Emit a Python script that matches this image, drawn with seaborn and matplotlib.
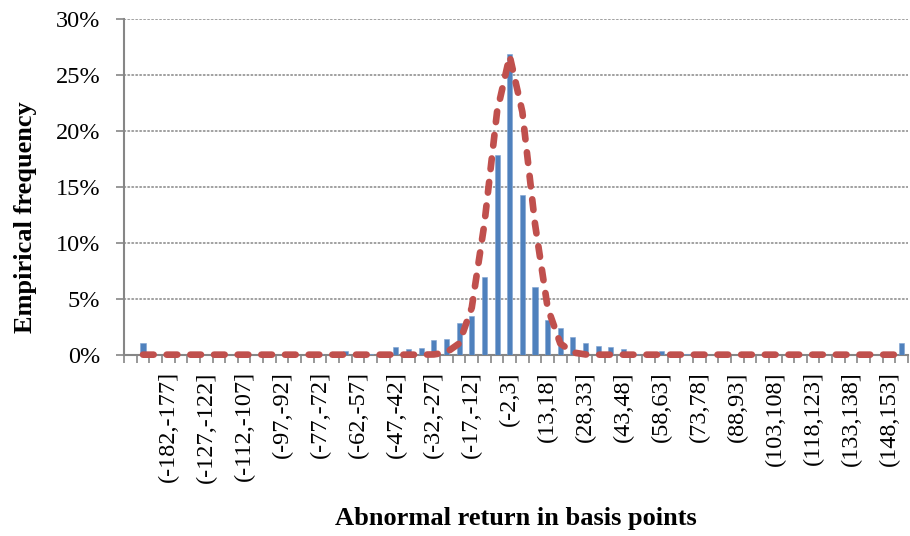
import numpy as np
import pandas as pd
import seaborn as sns
import matplotlib
matplotlib.use("Agg")
import matplotlib.pyplot as plt
from matplotlib.ticker import FuncFormatter, FixedLocator

# ---- data ----
# lower bounds of each 5 bp bucket (index 0 is an unlabeled empty slot)
lower_bounds = [None, -192, -187, -182, -177, -132, -127, -122, -117, -112, -107, -102,
                -97, -92, -82, -77, -72, -67, -62, -57, -52, -47, -42, -37, -32, -27,
                -22, -17, -12, -7, -2, 3, 8, 13, 18, 23, 28, 33, 38, 43, 48, 53,
                58, 63, 68, 73, 78, 83, 88, 93, 98, 103, 108, 113, 118, 123, 128,
                133, 138, 143, 148, 153]
categories = ["" if lo is None else f"({lo},{lo + 5}]" for lo in lower_bounds]

# empirical frequency (%)
empirical = [0.0, 1.02, 0.0, 0.0, 0.0, 0.0, 0.0, 0.0, 0.0, 0.05, 0.0, 0.0,
             0.0, 0.0, 0.0, 0.05, 0.0, 0.36, 0.24, 0.05, 0.18, 0.69, 0.51, 0.64,
             1.30, 1.36, 2.80, 3.48, 6.90, 17.80, 26.85, 14.25, 6.07, 3.10, 2.40, 1.62,
             1.05, 0.74, 0.67, 0.51, 0.05, 0.0, 0.30, 0.05, 0.05, 0.18, 0.0, 0.0,
             0.0, 0.0, 0.0, 0.12, 0.0, 0.0, 0.0, 0.0, 0.0, 0.0, 0.0, 0.0, 0.0, 1.03]

# fitted normal density (%), dashed red line
normal_fit = [np.nan, 0.0, 0.0, 0.0, 0.0, 0.0, 0.0, 0.0, 0.0, 0.0, 0.0, 0.0,
              0.0, 0.0, 0.0, 0.0, 0.0, 0.0, 0.0, 0.0, 0.0, 0.0, 0.0, 0.0,
              0.02, 0.20, 1.00, 4.20, 11.70, 21.70, 26.70, 21.70, 11.70, 4.20, 1.00, 0.20,
              0.02, 0.0, 0.0, 0.0, 0.0, 0.0, 0.0, 0.0, 0.0, 0.0, 0.0, 0.0,
              0.0, 0.0, 0.0, 0.0, 0.0, 0.0, 0.0, 0.0, 0.0, 0.0, 0.0, 0.0, 0.0, 0.0]

y_ticks = [0, 5, 10, 15, 20, 25, 30]

df = pd.DataFrame({"category": categories,
                   "pos": np.arange(len(categories)),
                   "empirical": np.array(empirical) / 100.0,
                   "normal": np.array(normal_fit) / 100.0})

# ---- style ----
sns.set_theme(style="white")
plt.rcParams["font.family"] = ["Liberation Serif", "DejaVu Serif"]
plt.rcParams["text.color"] = "black"
plt.rcParams["xtick.color"] = "black"
plt.rcParams["ytick.color"] = "black"
plt.rcParams["axes.labelcolor"] = "black"
plt.rcParams["lines.dash_capstyle"] = "round"
plt.rcParams["lines.dash_joinstyle"] = "round"
grey = "#868686"
bar_blue = "#4F81BD"
line_red = "#C0504D"

fig = plt.figure(figsize=(9.10, 5.36), dpi=100)
ax = fig.add_axes([0.1363, 0.3383, 0.8615, 0.6263])

# bars
sns.barplot(data=df, x="pos", y="empirical", order=list(df["pos"]), color=bar_blue,
            saturation=1, width=0.4, ax=ax, zorder=3, edgecolor="#7FA3D1", linewidth=0.4)

# fitted normal line
n_before = len(ax.lines)
sns.lineplot(data=df.dropna(), x="pos", y="normal", color=line_red, ax=ax, zorder=4,
             linewidth=4.8, linestyle=(0, (1.6, 1.95)))
for ln in ax.lines[n_before:]:
    ln.set_dash_capstyle("round")
    ln.set_dash_joinstyle("round")
    ln.set_clip_on(False)

n = len(categories)
ax.set_xlim(-0.5, n - 0.5)
ax.set_ylim(0, 0.30)

# y axis
ax.set_yticks([v / 100 for v in y_ticks])
ax.yaxis.set_major_formatter(FuncFormatter(lambda v, p: f"{v * 100:.0f}%"))
ax.tick_params(axis="y", which="major", length=6, width=1.2, color=grey,
               labelsize=17.5, labelcolor="black", pad=11, direction="out", left=True)
for v in y_ticks[1:]:
    ax.axhline(v / 100, color=grey, linestyle=(0, (1, 1.6)), linewidth=1.1, zorder=1)

# x axis: label every 3rd category, tick marks at category boundaries
label_pos = list(range(0, n, 3))
ax.xaxis.set_major_locator(FixedLocator(label_pos))
ax.set_xticklabels([categories[i] for i in label_pos], rotation=90, fontsize=17.5)
ax.xaxis.set_minor_locator(FixedLocator(np.arange(-0.5, n, 1.0)))
ax.tick_params(axis="x", which="major", length=0, pad=12, bottom=True, labelcolor="black")
ax.tick_params(axis="x", which="minor", length=6, width=1.2, color=grey,
               direction="out", bottom=True)
for lab in ax.get_xticklabels():
    lab.set_horizontalalignment("center")

for s in ["top", "right"]:
    ax.spines[s].set_visible(False)
for s in ["left", "bottom"]:
    ax.spines[s].set_color(grey)
    ax.spines[s].set_linewidth(1.5)

ax.set_xlabel("Abnormal return in basis points", fontsize=19, fontweight="bold", color="black")
ax.set_ylabel("Empirical frequency", fontsize=19, fontweight="bold", color="black")
ax.xaxis.set_label_coords(0.50, -0.455)
ax.yaxis.set_label_coords(-0.111, 0.41)

fig.savefig("out.png", dpi=100)
